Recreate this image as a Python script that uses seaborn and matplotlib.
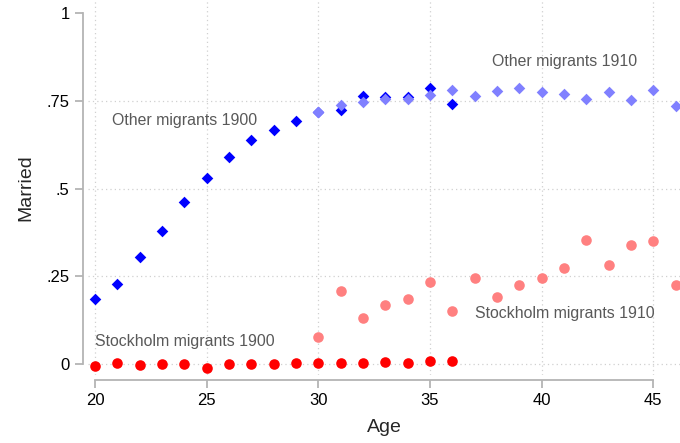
import matplotlib
matplotlib.use("Agg")
import matplotlib.pyplot as plt
import seaborn as sns
import pandas as pd

# Share of married by age, two census years, two migrant groups
ages_1900 = [20, 21, 22, 23, 24, 25, 26, 27, 28, 29, 30, 31, 32, 33, 34, 35, 36]
ages_1910 = [30, 31, 32, 33, 34, 35, 36, 37, 38, 39, 40, 41, 42, 43, 44, 45, 46]

other_1900 = [0.184, 0.229, 0.304, 0.378, 0.463, 0.530, 0.590, 0.640, 0.667,
              0.694, 0.718, 0.723, 0.764, 0.762, 0.762, 0.788, 0.740]
other_1910 = [0.718, 0.738, 0.747, 0.756, 0.756, 0.766, 0.781, 0.764, 0.779,
              0.787, 0.777, 0.771, 0.755, 0.777, 0.754, 0.780, 0.737]
stockholm_1900 = [-0.005, 0.004, -0.004, -0.001, 0.000, -0.011, 0.001, 0.001, 0.001,
                  0.002, 0.002, 0.003, 0.003, 0.005, 0.004, 0.008, 0.009]
stockholm_1910 = [0.076, 0.208, 0.132, 0.169, 0.185, 0.233, 0.150, 0.245, 0.190,
                  0.226, 0.246, 0.275, 0.353, 0.282, 0.340, 0.350, 0.225]

x_ticks = [20, 25, 30, 35, 40, 45]
y_ticks = [0, 0.25, 0.5, 0.75, 1]
y_tick_labels = ["0", ".25", ".5", ".75", "1"]

sns.set_style("white")
plt.rcParams["font.family"] = ["Liberation Sans", "DejaVu Sans"]

fig = plt.figure(figsize=(6.8, 4.43), dpi=100)
ax = fig.add_axes([88 / 680, 68 / 443, 592 / 680, 375 / 443])

df_o00 = pd.DataFrame({"Age": ages_1900, "Married": other_1900})
df_o10 = pd.DataFrame({"Age": ages_1910, "Married": other_1910})
df_s00 = pd.DataFrame({"Age": ages_1900, "Married": stockholm_1900})
df_s10 = pd.DataFrame({"Age": ages_1910, "Married": stockholm_1910})

sns.scatterplot(data=df_o00, x="Age", y="Married", marker="D", s=35,
                color="#0000ff", linewidth=0, ax=ax, zorder=3)
sns.scatterplot(data=df_s00, x="Age", y="Married", marker="o", s=58,
                color="#ff0000", linewidth=0, ax=ax, zorder=3)
sns.scatterplot(data=df_o10, x="Age", y="Married", marker="D", s=35,
                color="#8080ff", linewidth=0, ax=ax, zorder=4)
sns.scatterplot(data=df_s10, x="Age", y="Married", marker="o", s=58,
                color="#ff8080", linewidth=0, ax=ax, zorder=4)

ax.set_xlim(19.687, 46.198)
ax.set_ylim(-0.0314, 1.038)

# dotted grid at the labelled ticks (none at the top of the scale)
for xv in x_ticks:
    ax.axvline(xv, color="#d0d0d0", linestyle=(0, (1, 2.5)), linewidth=0.9, zorder=1)
for yv in y_ticks[:-1]:
    ax.axhline(yv, color="#d0d0d0", linestyle=(0, (1, 2.5)), linewidth=0.9, zorder=1)

# detached axis lines spanning only the tick range
for side in ["top", "right"]:
    ax.spines[side].set_visible(False)
ax.spines["left"].set_position(("outward", 3.8))
ax.spines["bottom"].set_position(("outward", 3.6))
ax.spines["left"].set_bounds(0, 1)
ax.spines["bottom"].set_bounds(20, 45)
for side in ["left", "bottom"]:
    ax.spines[side].set_color("#b4b4b4")
    ax.spines[side].set_linewidth(1.3)

ax.set_xticks(x_ticks)
ax.set_yticks(y_ticks)
ax.set_yticklabels(y_tick_labels)
ax.tick_params(axis="both", direction="out", length=5.5, width=1.3,
               color="#b4b4b4", labelsize=12, labelcolor="black", pad=4,
               left=True, bottom=True)

ax.set_xlabel("Age", fontsize=14, labelpad=7.5)
ax.set_ylabel("Married", fontsize=14, labelpad=9)

label_color = "#595959"
ax.text(20.75, 0.693, "Other migrants 1900", fontsize=11.4, color=label_color, va="center", ha="left")
ax.text(37.77, 0.862, "Other migrants 1910", fontsize=11.4, color=label_color, va="center", ha="left")
ax.text(20.0, 0.064, "Stockholm migrants 1900", fontsize=11.4, color=label_color, va="center", ha="left")
ax.text(37.02, 0.143, "Stockholm migrants 1910", fontsize=11.4, color=label_color, va="center", ha="left")

fig.savefig("out.png", dpi=100)
